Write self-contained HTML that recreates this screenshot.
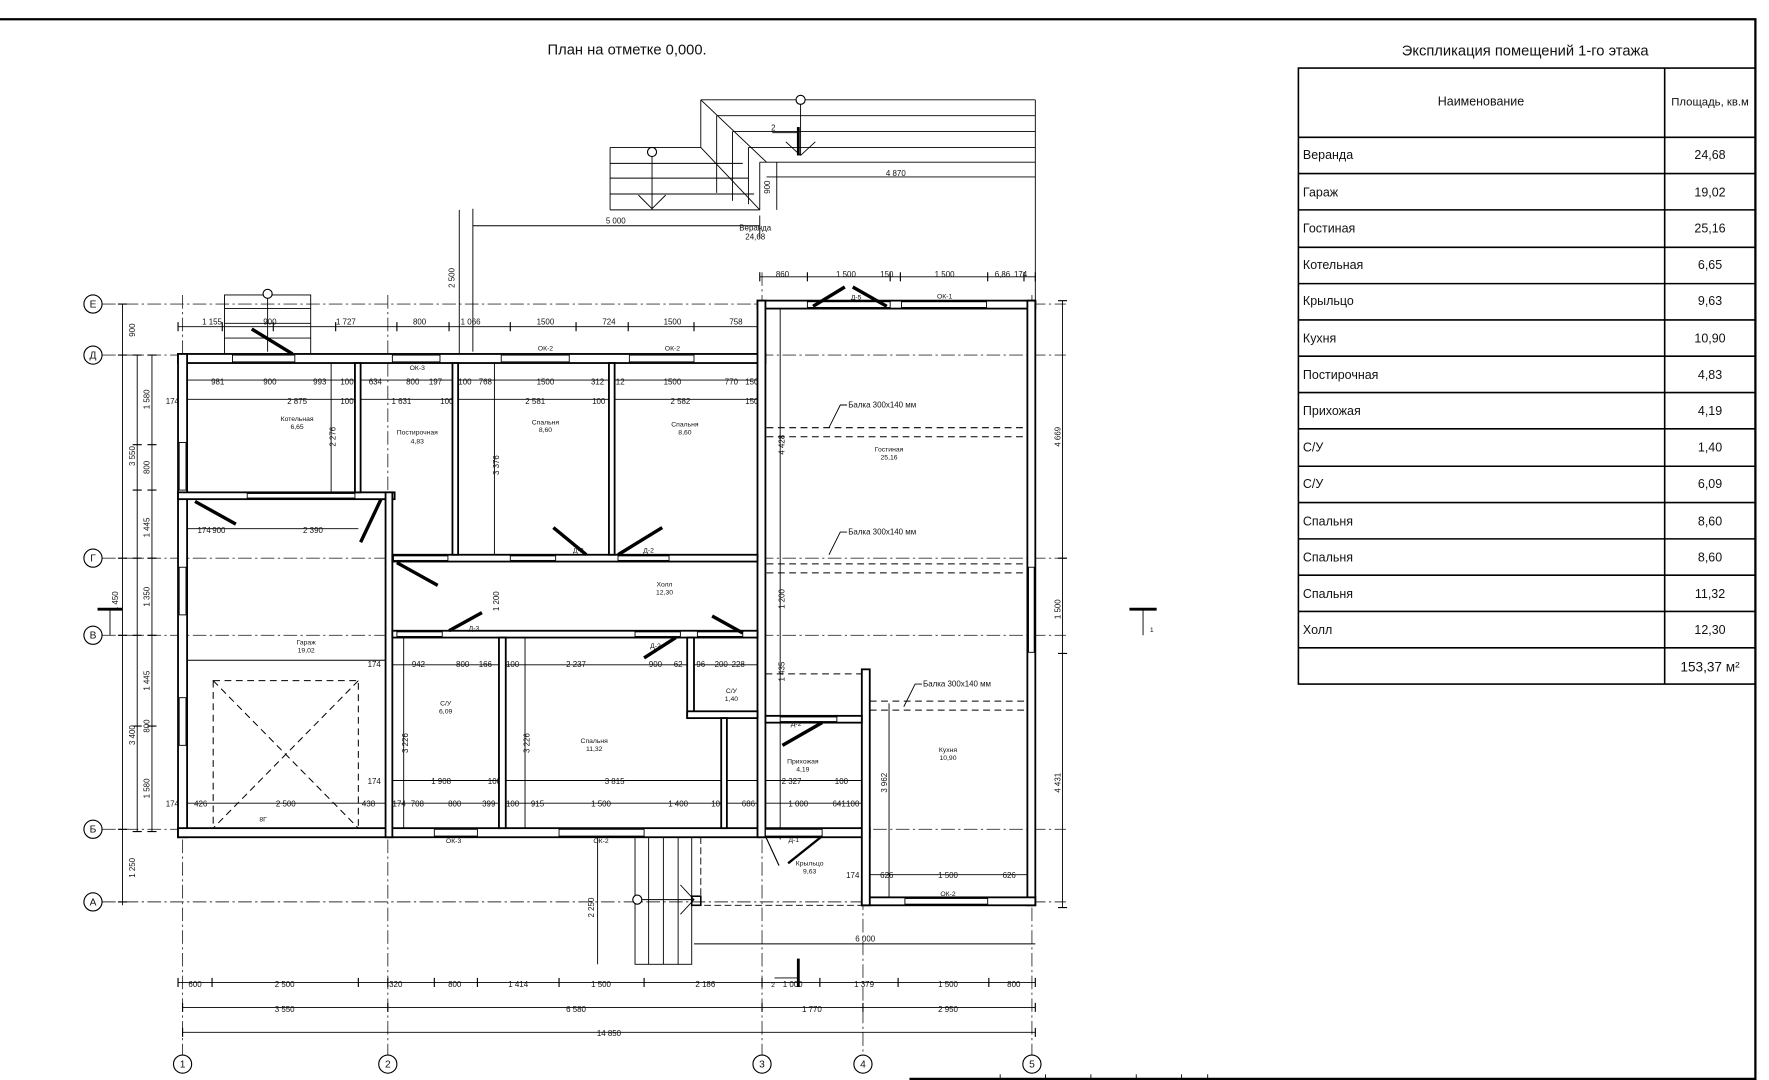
<!DOCTYPE html>
<html><head><meta charset="utf-8"><style>
html,body{margin:0;padding:0;background:#fff;}
svg{display:block;}
text{font-family:"Liberation Sans","DejaVu Sans",sans-serif;fill:#111;}
.d{font-size:7px;}
.r{font-size:6px;}
.ax{stroke:#333;stroke-width:0.8;stroke-dasharray:12 3 2 3;fill:none;}
.w{fill:#fff;stroke:#000;stroke-width:1.6;}
.l{stroke:#000;stroke-width:0.8;fill:none;}
.t{stroke:#000;stroke-width:1.2;fill:none;}
.dsh{stroke:#000;stroke-width:0.9;stroke-dasharray:6 4;fill:none;}
.dr{stroke:#000;stroke-width:3;}
</style></head><body>
<svg width="1769" height="1080" viewBox="0 0 1560 952" preserveAspectRatio="none" xmlns="http://www.w3.org/2000/svg">
<rect width="1560" height="952" fill="#fff"/>
<!-- frame -->
<line x1="0" y1="17" x2="1549" y2="17" stroke="#000" stroke-width="2"/>
<line x1="1548" y1="17" x2="1548" y2="952" stroke="#000" stroke-width="2"/>
<line x1="802" y1="951" x2="1548" y2="951" stroke="#000" stroke-width="2"/>
<g class="l"><line x1="842" y1="951" x2="842" y2="952"/><line x1="882" y1="947" x2="882" y2="952"/><line x1="922" y1="947" x2="922" y2="952"/><line x1="962" y1="947" x2="962" y2="952"/><line x1="1002" y1="947" x2="1002" y2="952"/><line x1="1042" y1="947" x2="1042" y2="952"/><line x1="1065" y1="947" x2="1065" y2="952"/></g>
<text x="553" y="48" font-size="13" text-anchor="middle" style="font-stretch:condensed">План на отметке 0,000.</text>

<!-- table -->
<text x="1345" y="49" font-size="13" text-anchor="middle">Экспликация помещений 1-го этажа</text>
<g stroke="#000" stroke-width="1.4" fill="none">
<rect x="1145" y="60" width="403" height="543"/>
<line x1="1468" y1="60" x2="1468" y2="603"/>
<line x1="1145" y1="121" x2="1548" y2="121"/>
<line x1="1145" y1="153" x2="1548" y2="153"/><line x1="1145" y1="185" x2="1548" y2="185"/>
<line x1="1145" y1="218" x2="1548" y2="218"/><line x1="1145" y1="250" x2="1548" y2="250"/>
<line x1="1145" y1="282" x2="1548" y2="282"/><line x1="1145" y1="314" x2="1548" y2="314"/>
<line x1="1145" y1="346" x2="1548" y2="346"/><line x1="1145" y1="378" x2="1548" y2="378"/>
<line x1="1145" y1="411" x2="1548" y2="411"/><line x1="1145" y1="443" x2="1548" y2="443"/>
<line x1="1145" y1="475" x2="1548" y2="475"/><line x1="1145" y1="507" x2="1548" y2="507"/>
<line x1="1145" y1="539" x2="1548" y2="539"/><line x1="1145" y1="571" x2="1548" y2="571"/>
</g>
<g font-size="11">
<text x="1306" y="93" text-anchor="middle">Наименование</text>
<text x="1508" y="93" text-anchor="middle" font-size="10">Площадь, кв.м</text>
<text x="1149" y="140">Веранда</text><text x="1508" y="140" text-anchor="middle">24,68</text>
<text x="1149" y="173">Гараж</text><text x="1508" y="173" text-anchor="middle">19,02</text>
<text x="1149" y="205">Гостиная</text><text x="1508" y="205" text-anchor="middle">25,16</text>
<text x="1149" y="237">Котельная</text><text x="1508" y="237" text-anchor="middle">6,65</text>
<text x="1149" y="269">Крыльцо</text><text x="1508" y="269" text-anchor="middle">9,63</text>
<text x="1149" y="302">Кухня</text><text x="1508" y="302" text-anchor="middle">10,90</text>
<text x="1149" y="334">Постирочная</text><text x="1508" y="334" text-anchor="middle">4,83</text>
<text x="1149" y="366">Прихожая</text><text x="1508" y="366" text-anchor="middle">4,19</text>
<text x="1149" y="398">С/У</text><text x="1508" y="398" text-anchor="middle">1,40</text>
<text x="1149" y="430">С/У</text><text x="1508" y="430" text-anchor="middle">6,09</text>
<text x="1149" y="463">Спальня</text><text x="1508" y="463" text-anchor="middle">8,60</text>
<text x="1149" y="495">Спальня</text><text x="1508" y="495" text-anchor="middle">8,60</text>
<text x="1149" y="527">Спальня</text><text x="1508" y="527" text-anchor="middle">11,32</text>
<text x="1149" y="559">Холл</text><text x="1508" y="559" text-anchor="middle">12,30</text>
<text x="1508" y="592" text-anchor="middle" font-size="12">153,37 м²</text>
</g>

<!-- axes horizontal -->
<g class="ax">
<line x1="90" y1="268" x2="940" y2="268"/>
<line x1="90" y1="313" x2="940" y2="313"/>
<line x1="90" y1="492" x2="940" y2="492"/>
<line x1="90" y1="560" x2="940" y2="560"/>
<line x1="90" y1="731" x2="940" y2="731"/>
<line x1="90" y1="795" x2="940" y2="795"/>
<line x1="161" y1="260" x2="161" y2="930"/>
<line x1="342" y1="260" x2="342" y2="930"/>
<line x1="672" y1="240" x2="672" y2="930"/>
<line x1="761" y1="590" x2="761" y2="930"/>
<line x1="910" y1="260" x2="910" y2="930"/>
</g>
<g fill="#fff" stroke="#000" stroke-width="1">
<circle cx="82" cy="268" r="8"/><circle cx="82" cy="313" r="8"/><circle cx="82" cy="492" r="8"/>
<circle cx="82" cy="560" r="8"/><circle cx="82" cy="731" r="8"/><circle cx="82" cy="795" r="8"/>
<circle cx="161" cy="938" r="8"/><circle cx="342" cy="938" r="8"/><circle cx="672" cy="938" r="8"/>
<circle cx="761" cy="938" r="8"/><circle cx="910" cy="938" r="8"/>
</g>
<g font-size="9" text-anchor="middle">
<text x="82" y="271">Е</text><text x="82" y="316">Д</text><text x="82" y="495">Г</text>
<text x="82" y="563">В</text><text x="82" y="734">Б</text><text x="82" y="798">А</text>
<text x="161" y="941">1</text><text x="342" y="941">2</text><text x="672" y="941">3</text>
<text x="761" y="941">4</text><text x="910" y="941">5</text>
</g>

<!-- stairs top -->
<g class="l">
<line x1="618" y1="88" x2="913" y2="88"/><line x1="632" y1="102" x2="913" y2="102"/>
<line x1="646" y1="116" x2="913" y2="116"/><line x1="660" y1="130" x2="913" y2="130"/>
<line x1="670" y1="143" x2="913" y2="143"/>
<line x1="618" y1="88" x2="618" y2="130"/><line x1="618" y1="88" x2="676" y2="143"/>
<line x1="538" y1="130" x2="618" y2="130"/><line x1="538" y1="144" x2="655" y2="144"/>
<line x1="538" y1="157" x2="660" y2="157"/><line x1="538" y1="171" x2="665" y2="171"/>
<line x1="538" y1="185" x2="670" y2="185"/><line x1="538" y1="130" x2="538" y2="185"/>
<line x1="618" y1="130" x2="670" y2="185"/><line x1="670" y1="143" x2="670" y2="185"/>
<line x1="632" y1="102" x2="632" y2="170"/><line x1="646" y1="116" x2="646" y2="177"/><line x1="660" y1="130" x2="660" y2="180"/>
<line x1="913" y1="88" x2="913" y2="265"/>
<line x1="575" y1="138" x2="575" y2="185"/><line x1="563" y1="172" x2="575" y2="184"/><line x1="587" y1="172" x2="575" y2="184"/>
<line x1="706" y1="92" x2="706" y2="137"/><line x1="693" y1="125" x2="706" y2="137"/><line x1="719" y1="125" x2="706" y2="137"/>
<line x1="681" y1="117" x2="703" y2="117"/>
<line x1="676" y1="156" x2="913" y2="156"/><line x1="685" y1="143" x2="685" y2="185"/>
<line x1="417" y1="184" x2="417" y2="310"/><line x1="417" y1="199" x2="670" y2="199"/><line x1="670" y1="190" x2="670" y2="210"/>
<line x1="405" y1="185" x2="405" y2="312"/>
<!-- small top stairs -->
<rect x="198" y="260" width="76" height="53"/>
<line x1="198" y1="272" x2="274" y2="272"/><line x1="198" y1="285" x2="274" y2="285"/><line x1="198" y1="298" x2="274" y2="298"/>
<line x1="236" y1="262" x2="236" y2="310"/>
</g>
<line x1="704" y1="112" x2="704" y2="137" stroke="#000" stroke-width="2.5"/>
<circle cx="575" cy="134" r="4" fill="#fff" stroke="#000"/><circle cx="706" cy="88" r="4" fill="#fff" stroke="#000"/><circle cx="236" cy="259" r="4" fill="#fff" stroke="#000"/>
<g class="d" text-anchor="middle">
<text x="682" y="115">2</text><text x="790" y="155">4 870</text><text x="543" y="197">5 000</text>
<text x="666" y="203">Веранда</text><text x="666" y="211">24,68</text>
</g>
<text class="d" transform="translate(679,165) rotate(-90)" text-anchor="middle">900</text>
<text class="d" transform="translate(401,245) rotate(-90)" text-anchor="middle">2 500</text>

<!-- dimension lines top -->
<g class="l">
<line x1="157" y1="288" x2="672" y2="288"/>
<line x1="670" y1="244" x2="913" y2="244"/>
<line x1="165" y1="335" x2="672" y2="335"/>
<line x1="165" y1="352" x2="672" y2="352"/>
<line x1="108" y1="268" x2="108" y2="798"/>
<line x1="121" y1="313" x2="121" y2="733"/>
<line x1="134" y1="313" x2="134" y2="733"/>
<line x1="937" y1="265" x2="937" y2="800"/>
<line x1="157" y1="866" x2="913" y2="866"/>
<line x1="161" y1="888" x2="913" y2="888"/>
<line x1="161" y1="910" x2="913" y2="910"/>
<line x1="612" y1="832" x2="913" y2="832"/>
<line x1="527" y1="738" x2="527" y2="850"/>
</g>
<g stroke="#000" stroke-width="1">
<path d="M157 284v8M196 284v8M241 284v8M296 284v8M350 284v8M396 284v8M450 284v8M508 284v8M554 284v8M612 284v8M672 284v8"/>
<path d="M670 240v8M712 240v8M785 240v8M794 240v8M871 240v8M903 240v8M913 240v8"/>
<path d="M104 268h8M104 313h8M104 492h8M104 560h8M104 731h8M104 795h8"/>
<path d="M117 313h8M117 392h8M117 432h8M117 492h8M117 560h8M117 640h8M117 733h8"/>
<path d="M130 313h8M130 392h8M130 432h8M130 492h8M130 560h8M130 640h8M130 733h8"/>
<path d="M933 265h8M933 492h8M933 576h8M933 800h8"/>
<path d="M157 862v8M187 862v8M316 862v8M342 862v8M383 862v8M421 862v8M493 862v8M568 862v8M672 862v8M723 862v8M792 862v8M872 862v8M913 862v8"/>
<path d="M161 884v8M342 884v8M672 884v8M761 884v8M913 884v8M161 906v8M913 906v8"/>
</g>
<g class="d" text-anchor="middle">
<text x="187" y="286">1 155</text><text x="238" y="286">900</text><text x="305" y="286">1 727</text><text x="370" y="286">800</text><text x="415" y="286">1 066</text><text x="481" y="286">1500</text><text x="537" y="286">724</text><text x="593" y="286">1500</text><text x="649" y="286">758</text>
<text x="690" y="244">860</text><text x="746" y="244">1 500</text><text x="782" y="244">150</text><text x="833" y="244">1 500</text><text x="884" y="244">6,86</text><text x="900" y="244">174</text>
<text x="192" y="339">981</text><text x="238" y="339">900</text><text x="282" y="339">993</text><text x="306" y="339">100</text><text x="331" y="339">634</text><text x="364" y="339">800</text><text x="384" y="339">197</text><text x="410" y="339">100</text><text x="428" y="339">768</text><text x="481" y="339">1500</text><text x="527" y="339">312</text><text x="545" y="339">312</text><text x="593" y="339">1500</text><text x="645" y="339">770</text><text x="663" y="339">150</text>
<text x="152" y="356">174</text><text x="262" y="356">2 875</text><text x="306" y="356">100</text><text x="354" y="356">1 631</text><text x="394" y="356">100</text><text x="472" y="356">2 581</text><text x="528" y="356">100</text><text x="600" y="356">2 582</text><text x="663" y="356">150</text>
<text x="172" y="870">600</text><text x="251" y="870">2 500</text><text x="349" y="870">320</text><text x="401" y="870">800</text><text x="457" y="870">1 414</text><text x="530" y="870">1 500</text><text x="622" y="870">2 186</text><text x="699" y="870">1 000</text><text x="762" y="870">1 379</text><text x="836" y="870">1 500</text><text x="894" y="870">800</text>
<text x="251" y="892">3 550</text><text x="508" y="892">6 580</text><text x="716" y="892">1 770</text><text x="836" y="892">2 950</text>
<text x="537" y="913">14 850</text><text x="763" y="830">6 000</text>
</g>
<g class="d" text-anchor="middle">
<text transform="translate(119,291) rotate(-90)">900</text>
<text transform="translate(132,352) rotate(-90)">1 580</text>
<text transform="translate(119,402) rotate(-90)">3 550</text>
<text transform="translate(132,412) rotate(-90)">800</text>
<text transform="translate(132,465) rotate(-90)">1 445</text>
<text transform="translate(132,526) rotate(-90)">1 350</text>
<text transform="translate(104,530) rotate(-90)">1 450</text>
<text transform="translate(132,600) rotate(-90)">1 445</text>
<text transform="translate(119,648) rotate(-90)">3 400</text>
<text transform="translate(132,640) rotate(-90)">800</text>
<text transform="translate(132,695) rotate(-90)">1 580</text>
<text transform="translate(119,765) rotate(-90)">1 250</text>
<text transform="translate(935,385) rotate(-90)">4 669</text>
<text transform="translate(935,537) rotate(-90)">1 500</text>
<text transform="translate(935,690) rotate(-90)">4 431</text>
<text transform="translate(524,800) rotate(-90)">2 250</text>
<text transform="translate(296,385) rotate(-90)">2 276</text>
<text transform="translate(440,410) rotate(-90)">3 376</text>
<text transform="translate(440,530) rotate(-90)">1 200</text>
<text transform="translate(360,655) rotate(-90)">3 226</text>
<text transform="translate(467,655) rotate(-90)">3 226</text>
<text transform="translate(692,392) rotate(-90)">4 428</text>
<text transform="translate(692,528) rotate(-90)">1 200</text>
<text transform="translate(692,592) rotate(-90)">1 435</text>
<text transform="translate(782,690) rotate(-90)">3 962</text>
</g>
<g class="l"><line x1="436" y1="320" x2="436" y2="492"/><line x1="688" y1="272" x2="688" y2="740"/><line x1="784" y1="620" x2="784" y2="791"/><line x1="356" y1="562" x2="356" y2="731"/><line x1="463" y1="562" x2="463" y2="731"/><line x1="292" y1="320" x2="292" y2="434"/></g>
<g class="l"><line x1="165" y1="582" x2="342" y2="582"/><line x1="346" y1="586" x2="672" y2="586"/><line x1="346" y1="688" x2="672" y2="688"/><line x1="165" y1="708" x2="342" y2="708"/><line x1="346" y1="708" x2="760" y2="708"/><line x1="165" y1="466" x2="316" y2="466"/><line x1="767" y1="771" x2="906" y2="771"/><line x1="675" y1="688" x2="760" y2="688"/></g>
<g class="d" text-anchor="middle">
<text x="193" y="470">900</text><text x="276" y="470">2 390</text><text x="180" y="470">174</text>
<text x="330" y="588">174</text><text x="369" y="588">942</text><text x="408" y="588">800</text><text x="428" y="588">166</text><text x="452" y="588">100</text><text x="508" y="588">2 237</text><text x="578" y="588">900</text><text x="598" y="588">62</text><text x="618" y="588">96</text><text x="636" y="588">200</text><text x="651" y="588">228</text>
<text x="330" y="691">174</text><text x="389" y="691">1 908</text><text x="436" y="691">100</text><text x="542" y="691">3 815</text><text x="698" y="691">2 327</text><text x="742" y="691">100</text>
<text x="152" y="711">174</text><text x="177" y="711">426</text><text x="252" y="711">2 500</text><text x="325" y="711">438</text><text x="352" y="711">174</text><text x="368" y="711">708</text><text x="401" y="711">800</text><text x="431" y="711">399</text><text x="452" y="711">100</text><text x="474" y="711">915</text><text x="530" y="711">1 500</text><text x="598" y="711">1 400</text><text x="633" y="711">100</text><text x="660" y="711">686</text><text x="704" y="711">1 000</text><text x="740" y="711">641</text><text x="752" y="711">100</text>
<text x="752" y="774">174</text><text x="782" y="774">626</text><text x="836" y="774">1 500</text><text x="890" y="774">626</text>
</g>

<!-- beams -->
<g class="dsh">
<line x1="676" y1="377" x2="906" y2="377"/><line x1="676" y1="385" x2="906" y2="385"/>
<line x1="676" y1="497" x2="906" y2="497"/><line x1="676" y1="505" x2="906" y2="505"/>
<line x1="767" y1="618" x2="906" y2="618"/><line x1="767" y1="626" x2="906" y2="626"/>
<line x1="675" y1="594" x2="760" y2="594"/>
<!-- garage door -->
<rect x="188" y="600" width="128" height="130"/>
<line x1="188" y1="600" x2="316" y2="730"/><line x1="316" y1="600" x2="188" y2="730"/>
</g>
<g class="l"><path d="M747 357h-6l-10 20"/><path d="M747 469h-6l-10 20"/><path d="M813 603h-6l-10 20"/></g>
<g font-size="7"><text x="748" y="359">Балка 300х140 мм</text><text x="748" y="471">Балка 300х140 мм</text><text x="814" y="605">Балка 300х140 мм</text></g>

<!-- lower stairs -->
<g class="l">
<rect x="560" y="738" width="50" height="112"/>
<line x1="572" y1="738" x2="572" y2="850"/><line x1="585" y1="738" x2="585" y2="850"/><line x1="598" y1="738" x2="598" y2="850"/>
<line x1="560" y1="793" x2="612" y2="793"/><path d="M600 780l12 13l-12 13"/>
<line x1="612" y1="798" x2="906" y2="798" stroke-dasharray="6 3"/>
<line x1="618" y1="738" x2="618" y2="798" stroke-dasharray="6 3"/>
</g>
<rect x="610" y="790" width="8" height="8" fill="none" stroke="#000" stroke-width="1.4"/>
<circle cx="562" cy="793" r="4" fill="#fff" stroke="#000"/>

<!-- walls -->
<g class="w">
<rect x="157" y="312" width="518" height="8"/>
<rect x="157" y="312" width="8" height="426"/>
<rect x="157" y="730" width="610" height="8"/>
<rect x="668" y="265" width="245" height="7"/>
<rect x="668" y="265" width="7" height="473"/>
<rect x="906" y="265" width="7" height="533"/>
<rect x="760" y="791" width="153" height="7"/>
<rect x="760" y="590" width="7" height="208"/>
<rect x="157" y="434" width="191" height="6"/>
<rect x="313" y="320" width="5" height="114"/>
<rect x="340" y="434" width="6" height="304"/>
<rect x="346" y="489" width="322" height="6"/>
<rect x="399" y="320" width="5" height="169"/>
<rect x="537" y="320" width="5" height="169"/>
<rect x="346" y="556" width="322" height="6"/>
<rect x="440" y="562" width="6" height="168"/>
<rect x="606" y="562" width="6" height="71"/>
<rect x="606" y="627" width="62" height="6"/>
<rect x="636" y="633" width="5" height="97"/>
<rect x="675" y="631" width="85" height="6"/>
</g>
<!-- openings -->
<g fill="#fff" stroke="#000" stroke-width="0.8">
<rect x="205" y="313" width="55" height="6"/><rect x="346" y="313" width="42" height="6"/><rect x="442" y="313" width="60" height="6"/><rect x="555" y="313" width="57" height="6"/>
<rect x="712" y="266" width="73" height="5"/><rect x="795" y="266" width="75" height="5"/>
<rect x="158" y="390" width="6" height="42"/><rect x="158" y="500" width="6" height="42"/><rect x="158" y="615" width="6" height="42"/>
<rect x="907" y="500" width="5" height="75"/>
<rect x="383" y="731" width="38" height="6"/><rect x="493" y="731" width="75" height="6"/><rect x="675" y="731" width="50" height="6"/>
<rect x="798" y="792" width="73" height="5"/>
<rect x="218" y="435" width="95" height="4"/>
<rect x="347" y="490" width="48" height="4"/><rect x="450" y="490" width="40" height="4"/><rect x="545" y="490" width="45" height="4"/>
<rect x="350" y="557" width="40" height="4"/><rect x="560" y="557" width="40" height="4"/><rect x="615" y="557" width="40" height="4"/>
<rect x="688" y="632" width="50" height="4"/>
</g>
<!-- doors -->
<g class="dr">
<line x1="222" y1="290" x2="258" y2="312"/>
<line x1="172" y1="442" x2="208" y2="462"/>
<line x1="336" y1="440" x2="318" y2="478"/>
<line x1="350" y1="496" x2="386" y2="516"/>
<line x1="488" y1="465" x2="517" y2="489"/>
<line x1="584" y1="465" x2="545" y2="489"/>
<line x1="396" y1="556" x2="425" y2="540"/>
<line x1="568" y1="580" x2="596" y2="562"/>
<line x1="628" y1="543" x2="655" y2="558"/>
<line x1="690" y1="657" x2="725" y2="637"/>
<line x1="717" y1="270" x2="745" y2="253"/>
<line x1="782" y1="270" x2="752" y2="253"/>
</g>
<path d="M675 737 l12 26" stroke="#000" stroke-width="1" fill="none"/>
<path d="M725 737 l-30 24" stroke="#000" stroke-width="2" fill="none"/>
<!-- door/window labels -->
<g class="r" text-anchor="middle">
<text x="368" y="326">ОК-3</text><text x="481" y="309">ОК-2</text><text x="593" y="309">ОК-2</text><text x="833" y="263">ОК-1</text><text x="755" y="264">Д-5</text>
<text x="510" y="487">Д-2</text><text x="572" y="487">Д-2</text><text x="418" y="556">Д-3</text><text x="578" y="571">Д-2</text><text x="702" y="640">Д-2</text><text x="700" y="742">Д-1</text>
<text x="400" y="743">ОК-3</text><text x="530" y="743">ОК-2</text><text x="836" y="790">ОК-2</text><text x="232" y="724">8Г</text>
<text x="262" y="371">Котельная</text><text x="262" y="378">6,65</text>
<text x="368" y="383">Постирочная</text><text x="368" y="391">4,83</text>
<text x="481" y="374">Спальня</text><text x="481" y="381">8,60</text>
<text x="604" y="376">Спальня</text><text x="604" y="383">8,60</text>
<text x="784" y="398">Гостиная</text><text x="784" y="405">25,16</text>
<text x="586" y="517">Холл</text><text x="586" y="524">12,30</text>
<text x="270" y="568">Гараж</text><text x="270" y="575">19,02</text>
<text x="393" y="622">С/У</text><text x="393" y="629">6,09</text>
<text x="524" y="655">Спальня</text><text x="524" y="662">11,32</text>
<text x="645" y="611">С/У</text><text x="645" y="618">1,40</text>
<text x="708" y="673">Прихожая</text><text x="708" y="680">4,19</text>
<text x="836" y="663">Кухня</text><text x="836" y="670">10,90</text>
<text x="714" y="763">Крыльцо</text><text x="714" y="770">9,63</text>
</g>
<!-- section marks -->
<g stroke="#000">
<line x1="86" y1="537" x2="108" y2="537" stroke-width="2.5"/><line x1="97" y1="537" x2="97" y2="560" stroke-width="0.8"/>
<line x1="996" y1="537" x2="1020" y2="537" stroke-width="2.5"/><line x1="1008" y1="537" x2="1008" y2="560" stroke-width="0.8"/>
<line x1="704" y1="845" x2="704" y2="870" stroke-width="2.5"/><line x1="683" y1="862" x2="704" y2="862" stroke-width="0.8"/>
</g>
<text x="1014" y="557" font-size="6">1</text><text x="680" y="870" font-size="6">2</text>
</svg>
</body></html>
